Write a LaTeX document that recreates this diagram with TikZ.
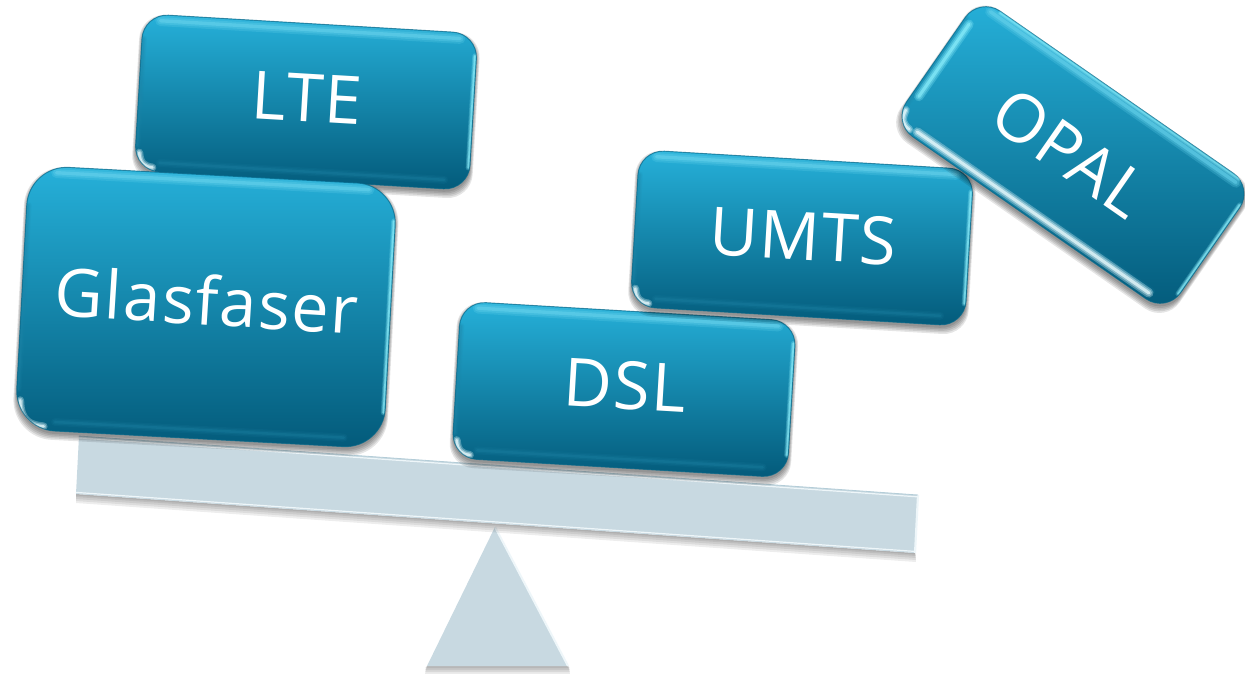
\documentclass[tikz,border=0pt]{standalone}
\usepackage{fontspec}
\setmainfont{Open Sans}[LetterSpace=2.5]
\definecolor{tealtop}{HTML}{26B1DA}
\definecolor{tealmid}{HTML}{0A8DB7}
\definecolor{tealbot}{HTML}{035A7A}
\definecolor{rimtop}{HTML}{66D2EC}
\definecolor{rimbot}{HTML}{1F86A8}
\definecolor{rimside}{HTML}{8CEFFC}
\definecolor{glint}{HTML}{EDFDFF}
\definecolor{beamfill}{HTML}{C8D9E1}
\definecolor{beamlight}{HTML}{EEF6F9}
\definecolor{beamedge}{HTML}{B4CDD8}
\newcommand\softline[4]{%
  \draw[line cap=round,color=#1,line width=1.0*#2,opacity=.3*#3] #4;
  \draw[line cap=round,color=#1,line width=.65*#2,opacity=.4*#3] #4;
  \draw[line cap=round,color=#1,line width=.32*#2,opacity=.7*#3] #4;
}
\newcommand\softbox[6]{%
  \begin{scope}[shift={(#1,#2+3)},rotate=#3]
    \foreach \g in {6,4.5,3,1.5,0}{
      \fill[black,opacity=.1,rounded corners=#6*.75pt]
        (-#4-\g*.5,-#5-\g*.5) rectangle (#4+\g*.5,#5+\g);
    }
  \end{scope}}
\newcommand\bevelbox[7]{%
  \pgfmathsetmacro\hw{#4/2}\pgfmathsetmacro\hh{#5/2}
  \softbox{#2}{#3}{#6}{\hw}{\hh}{#7}
  \begin{scope}[shift={(#2,#3)},rotate=#6]
    \path[rounded corners=#7*.75pt,top color=tealtop,middle color=tealmid,bottom color=tealbot]
      (-\hw,-\hh) rectangle (\hw,\hh);
    \begin{scope}
      \clip[rounded corners=#7*.75pt] (-\hw,-\hh) rectangle (\hw,\hh);
      \softline{rimtop}{8pt}{.8}{(-\hw+#7*.7,-\hh+6) -- (\hw-#7*.7,-\hh+6)}
      \softline{rimbot}{6pt}{.4}{(-\hw+#7,\hh-9) -- (\hw-#7,\hh-9)}
      \softline{rimside}{4pt}{.85}{(\hw-1.5,-\hh+#7*.9) -- (\hw-1.5,\hh-#7*.9)}
      \softline{rimbot}{5pt}{.4}{(-\hw+1.5,-\hh+#7) -- (-\hw+1.5,\hh-#7)}
      \softline{glint}{6pt}{1}{(-\hw+4,\hh-#7*.72) .. controls (-\hw+5.5,\hh-7) and (-\hw+#7*.4,\hh-4.5) .. (-\hw+#7*.72,\hh-4)}
    \end{scope}
    \draw[rounded corners=#7*.75pt,color=tealbot!75!tealmid,line width=.7pt,opacity=.7]
      (-\hw,-\hh) rectangle (\hw,\hh);
  \end{scope}}
\tikzset{
  boxlabel/.style={text=white,inner sep=0pt,font=\fontsize{50}{54}\selectfont},
}
\begin{document}
\begin{tikzpicture}[x=.75pt,y=-.75pt]
\useasboundingbox (0,0) rectangle (1245,674);
\fill[white] (0,0) rectangle (1245,674);
% fulcrum shadow
\foreach \g in {8,6,4,2}{
  \fill[black,opacity=.08] (427,666) -- (568,666) -- (570,666+\g) -- (425,666+\g) -- cycle;
}
\coordinate (apex) at (495,527);
\coordinate (baseL) at (427,666);
\coordinate (baseR) at (568,666);
\fill[beamfill] (apex) -- (baseR) -- (baseL) -- cycle;
\draw[beamlight,line width=1.5pt] (apex) -- (baseR);
% beam shadow
\foreach \g in {9,7,5,3,1.5}{
  \fill[black,opacity=.07] (76,494) -- (915,553) -- (916,553+\g) -- (76,494+\g) -- cycle;
}
\coordinate (beamTL) at (79,436);
\coordinate (beamTR) at (918,495);
\coordinate (beamBR) at (915,553);
\coordinate (beamBL) at (76,494);
\fill[beamfill] (beamTL) -- (beamTR) -- (beamBR) -- (beamBL) -- cycle;
\draw[beamlight,line width=1.6pt] (beamTR) -- (beamBR);
\draw[beamlight,line width=.9pt] ([yshift=1.2pt]beamBL) -- ([yshift=1.2pt]beamBR);
\draw[beamlight,line width=.9pt] ([yshift=-1.4pt]beamTL) -- ([yshift=-1.4pt]beamTR);
\draw[beamedge,line width=.6pt] (beamTL) -- (beamTR);
% boxes
\bevelbox{lte}{306}{102}{335}{157}{-3.4}{25}
\bevelbox{glas}{206}{307}{369}{264}{-3.1}{40}
\bevelbox{dsl}{624}{389.5}{336}{157}{-3.4}{25}
\bevelbox{umts}{802}{238}{335}{157}{-3.4}{25}
\bevelbox{opal}{1073}{155}{334}{153}{-34.8}{25}
% OPAL lighting differs from the others
\begin{scope}[shift={(1073,155)},rotate=-34.8]
  \clip[rounded corners=18.75pt] (-167,-76.5) rectangle (167,76.5);
  \softline{rimside}{7pt}{.9}{(-160,-48) -- (-160,40)}
  \softline{glint}{7pt}{1}{(-141,70) -- (141,70)}
  \softline{rimside}{3pt}{.7}{(-141,-75) -- (151,-75)}
\end{scope}
% labels
\node[boxlabel,rotate=-3.4] (ltet) at (307,98) {LTE};
\node[boxlabel,rotate=-3.6] (glast) at (207,300) {Glasfaser};
\node[boxlabel,rotate=-3.4] (dslt) at (625,385) {DSL};
\node[boxlabel,rotate=-3.4] (umtst) at (803,236) {UMTS};
\node[boxlabel,rotate=-34.8] (opalt) at (1070,153) {OPAL};
\end{tikzpicture}
\end{document}
